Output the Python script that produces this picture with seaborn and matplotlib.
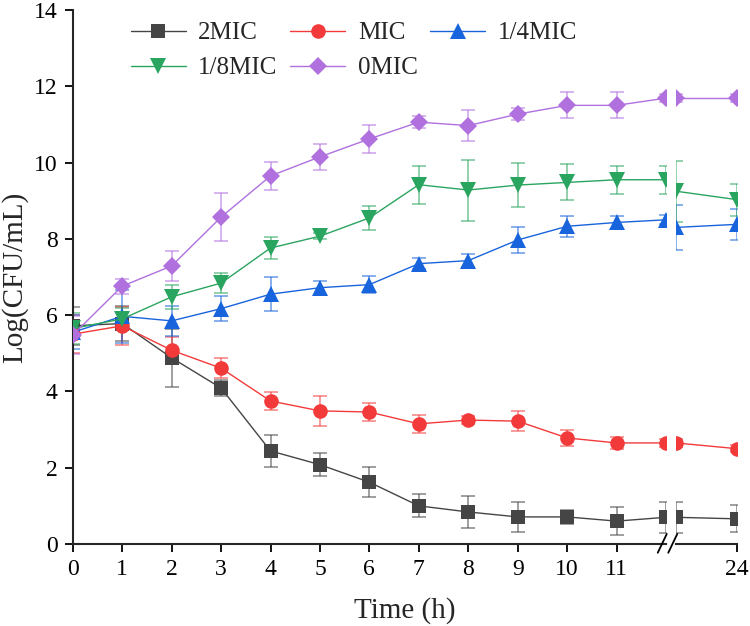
import numpy as np
import pandas as pd
import matplotlib
matplotlib.use("Agg")
import matplotlib.pyplot as plt
import seaborn as sns

sns.set_style("ticks")
plt.rcParams['font.family'] = ['Liberation Serif', 'DejaVu Serif']

groups = ['2MIC', 'MIC', '1/4MIC', '1/8MIC', '0MIC']
colors = ['#454545', '#f23a3a', '#1864dc', '#2aa560', '#b070de']
markers = ['s', 'o', '^', 'v', 'D']
msizes = [9.5, 10.5, 11, 11, 9.5]

# left segment, 0-12 h
times = list(range(13))
mean_2mic = [5.72, 5.78, 4.88, 4.09, 2.44, 2.08, 1.62, 1.0, 0.84, 0.71, 0.71, 0.6, 0.7]
sd_2mic = [0.5, 0.45, 0.76, 0.2, 0.42, 0.3, 0.39, 0.3, 0.42, 0.4, 0.18, 0.37, 0.4]
mean_mic = [5.5, 5.72, 5.08, 4.61, 3.75, 3.49, 3.46, 3.15, 3.25, 3.22, 2.78, 2.65, 2.65]
sd_mic = [0.5, 0.5, 0.35, 0.27, 0.24, 0.39, 0.24, 0.23, 0.1, 0.27, 0.2, 0.15, 0.1]
mean_q = [5.55, 5.97, 5.85, 6.17, 6.55, 6.72, 6.8, 7.35, 7.43, 7.97, 8.33, 8.43, 8.5]
sd_q = [0.45, 0.7, 0.4, 0.32, 0.45, 0.18, 0.23, 0.15, 0.18, 0.34, 0.27, 0.16, 0.12]
mean_e = [5.65, 5.9, 6.48, 6.84, 7.76, 8.07, 8.55, 9.42, 9.28, 9.41, 9.48, 9.55, 9.55]
sd_e = [0.4, 0.3, 0.31, 0.26, 0.29, 0.08, 0.31, 0.5, 0.8, 0.57, 0.47, 0.37, 0.37]
mean_0 = [5.48, 6.76, 7.29, 8.57, 9.65, 10.15, 10.62, 11.06, 10.97, 11.27, 11.5, 11.5, 11.69]
sd_0 = [0.5, 0.2, 0.39, 0.63, 0.37, 0.34, 0.37, 0.16, 0.4, 0.15, 0.34, 0.34, 0.1]

# right segment, 12-24 h
times_r = [12, 24]
mean_2mic_r = [0.7, 0.66]
sd_2mic_r = [0.4, 0.35]
mean_mic_r = [2.65, 2.5]
sd_mic_r = [0.1, 0.1]
mean_q_r = [8.3, 8.38]
sd_q_r = [0.6, 0.4]
mean_e_r = [9.25, 9.03]
sd_e_r = [0.8, 0.42]
mean_0_r = [11.69, 11.69]
sd_0_r = [0.1, 0.1]

left_means = [mean_2mic, mean_mic, mean_q, mean_e, mean_0]
left_sds = [sd_2mic, sd_mic, sd_q, sd_e, sd_0]
right_means = [mean_2mic_r, mean_mic_r, mean_q_r, mean_e_r, mean_0_r]
right_sds = [sd_2mic_r, sd_mic_r, sd_q_r, sd_e_r, sd_0_r]

fig = plt.figure(figsize=(7.5, 6.26), dpi=100)
ax = fig.add_axes([0.097, 0.131, 0.791, 0.853])
ax2 = fig.add_axes([0.901, 0.131, 0.081, 0.853], sharey=ax)

for a, t, means, sds in [(ax, times, left_means, left_sds), (ax2, times_r, right_means, right_sds)]:
    for g, c, m, sd, mk, ms in zip(groups, colors, means, sds, markers, msizes):
        a.errorbar(t, m, yerr=sd, fmt='none', ecolor=c, alpha=0.6, elinewidth=1.2,
                   capsize=5, capthick=1.2, zorder=2)
        sns.lineplot(x=t, y=m, color=c, marker=mk, markersize=ms, markeredgewidth=0,
                     linewidth=1.0, ax=a, label=g if a is ax else None, zorder=3)

ax.set_xlim(0, 12)
ax.set_ylim(0, 14)
ax.set_xticks(range(12))
ax.set_yticks(range(0, 15, 2))
ax2.set_xlim(12, 24)
ax2.set_xticks([24])

for a in (ax, ax2):
    a.tick_params(direction='out', length=6, width=1.3, labelsize=17, pad=5, colors='black')
    a.spines['top'].set_visible(False)
    a.spines['right'].set_visible(False)
    a.spines['bottom'].set_linewidth(1.5)
    a.spines['left'].set_linewidth(1.5)
ax2.spines['left'].set_visible(False)
ax2.tick_params(axis='y', left=False, labelleft=False)
ax2.set_xlabel('')
ax2.set_ylabel('')

ax.set_xlabel('Time (h)', fontsize=21)
ax.set_ylabel('Log(CFU/mL)', fontsize=21)
ax.xaxis.set_label_coords(0.56, -0.1)
ax.yaxis.set_label_coords(-0.075, 0.5)

# break marks
for x0 in (0.881, 0.895):
    fig.add_artist(plt.Line2D([x0 - 0.004, x0 + 0.008], [0.117, 0.147], color='black', lw=1.3))

# row-wise legend order for 3 columns
handles, labels = ax.get_legend_handles_labels()
order = [0, 3, 1, 4, 2]
ax.legend([handles[i] for i in order], [labels[i] for i in order], ncol=3,
          frameon=False, fontsize=18, loc='upper left',
          bbox_to_anchor=(0.06, 1.02), handlelength=2.2, columnspacing=0.5,
          labelspacing=0.5, handletextpad=0.5)

fig.savefig('out.png', dpi=100)
